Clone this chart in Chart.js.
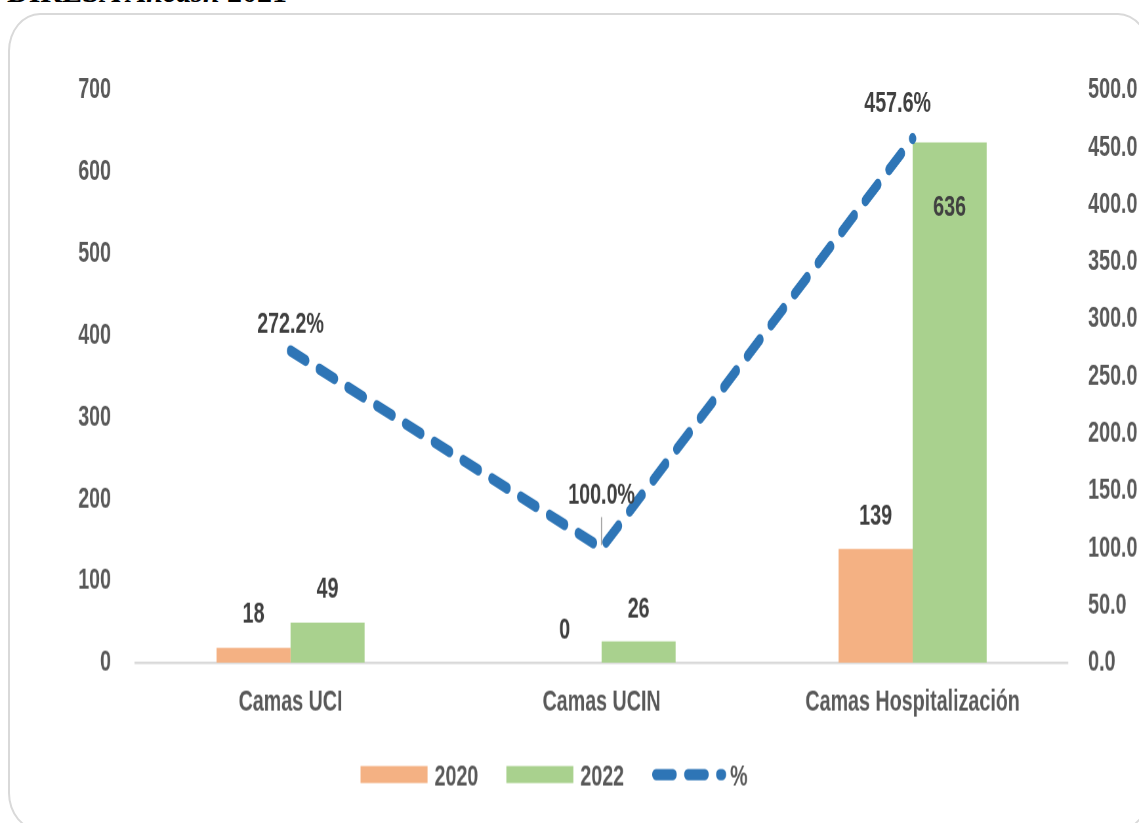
<!DOCTYPE html>
<html><head><meta charset="utf-8">
<script src="https://cdn.jsdelivr.net/npm/chart.js@4.4.1/dist/chart.umd.min.js"></script>
<style>
html,body{margin:0;padding:0;background:#fff;width:1139px;height:823px;overflow:hidden;}
#title{position:absolute;left:7px;top:-23px;font-family:"Liberation Serif","Times New Roman",serif;font-weight:bold;font-size:30px;line-height:30px;color:#000;white-space:nowrap;}
#frame{position:absolute;left:8px;top:13px;width:1142px;height:818px;border:2px solid #d9d9d9;border-radius:32px/38px;box-sizing:border-box;}
#wrap{position:absolute;left:0;top:0;width:1389.02px;height:658.4px;transform-origin:0 0;transform:scale(0.82,1.25);}
</style></head><body>
<div id="title">DIRESA <i>Ancash</i> 2021</div>
<div id="frame"></div>
<div id="wrap"><canvas id="c"></canvas></div>
<script>
// ---- data ----
const categories = ['Camas UCI', 'Camas UCIN', 'Camas Hospitalización'];
const seriesNames = ['2020', '2022', '%'];
const values2020 = [18, 0, 139];
const values2022 = [49, 26, 636];
const pctValues = [272.2, 100.0, 457.6];
const leftTicks = [0, 100, 200, 300, 400, 500, 600, 700];
const rightTicks = [0, 50, 100, 150, 200, 250, 300, 350, 400, 450, 500];

// ---- styles ----
const SX = 0.82, SY = 1.25; // narrow + tall look of the reference
const X = v => v / SX;      // screen px -> canvas units (horizontal)
const Y = v => v / SY;      // screen px -> canvas units (vertical)
const FONT = '"Liberation Sans",Arial,"DejaVu Sans",sans-serif';
const FS = 24;
Chart.defaults.font.family = FONT;
Chart.defaults.font.weight = 'bold';
Chart.defaults.font.size = FS;
Chart.defaults.color = '#595959';

const ORANGE = '#F4B183', GREEN = '#A9D18E', BLUE = '#2E75B6';
const DASH = [20, 18];

// label offsets relative to bar top / line point (screen px)
const labelOffsets = [
  {dx: [0, 0, 0], dy: [-36, -35, -35]},
  {dx: [0, 0, 0], dy: [-36, -35, 63]},
  {dx: [0, 0, -15], dy: [-29, -55, -37]}
];

const labelsPlugin = {
  id: 'valueLabels',
  afterDatasetsDraw(chart) {
    const ctx = chart.ctx;
    ctx.save();
    ctx.font = 'bold ' + FS + 'px ' + FONT;
    ctx.fillStyle = '#404040';
    ctx.textAlign = 'center';
    ctx.textBaseline = 'alphabetic';
    chart.data.datasets.forEach((ds, di) => {
      const meta = chart.getDatasetMeta(di);
      meta.data.forEach((el, i) => {
        const v = ds.data[i];
        const txt = ds.type === 'line' ? v.toFixed(1) + '%' : String(v);
        const off = labelOffsets[di];
        const cx = el.x + X(off.dx[i]);
        const cy = el.y + Y(off.dy[i]);
        ctx.fillText(txt, cx, cy + 0.36 * FS);
        if (ds.type === 'line' && i === 1) {
          ctx.save();
          ctx.strokeStyle = '#a6a6a6';
          ctx.lineWidth = 1.6;
          ctx.beginPath();
          ctx.moveTo(el.x, el.y - Y(31));
          ctx.lineTo(el.x, el.y - Y(3));
          ctx.stroke();
          ctx.restore();
        }
      });
    });
    ctx.restore();
  }
};

const legendPlugin = {
  id: 'customLegend',
  afterDraw(chart) {
    const ctx = chart.ctx;
    ctx.save();
    ctx.font = 'bold ' + FS + 'px ' + FONT;
    const items = chart.data.datasets.map(ds => ({
      type: ds.type,
      color: ds.type === 'line' ? ds.borderColor : ds.backgroundColor,
      text: ds.label,
      symW: X(ds.type === 'line' ? 74 : 67),
      gap: X(ds.type === 'line' ? 4 : 7)
    }));
    const spacing = X(28);
    let total = 0;
    items.forEach((it, k) => {
      it.tw = ctx.measureText(it.text).width;
      total += it.symW + it.gap + it.tw + (k < items.length - 1 ? spacing : 0);
    });
    let x = X(554) - total / 2;
    const cy = Y(775);
    items.forEach(it => {
      if (it.type === 'line') {
        ctx.save();
        ctx.strokeStyle = it.color;
        ctx.lineWidth = 9;
        ctx.lineCap = 'round';
        ctx.setLineDash([21, 18]);
        ctx.beginPath();
        ctx.moveTo(x + 4.5, cy);
        ctx.lineTo(x + it.symW - 4.5, cy);
        ctx.stroke();
        ctx.restore();
      } else {
        ctx.fillStyle = it.color;
        ctx.fillRect(x, cy - Y(8.5), it.symW, Y(17));
      }
      x += it.symW + it.gap;
      ctx.fillStyle = '#595959';
      ctx.textAlign = 'left';
      ctx.textBaseline = 'alphabetic';
      ctx.fillText(it.text, x, cy + 0.36 * FS);
      x += it.tw + spacing;
    });
    ctx.restore();
  }
};

new Chart(document.getElementById('c'), {
  data: {
    labels: categories,
    datasets: [
      {type: 'bar', label: seriesNames[0], data: values2020, backgroundColor: ORANGE, yAxisID: 'y', order: 1,
        categoryPercentage: 0.476, barPercentage: 1},
      {type: 'bar', label: seriesNames[1], data: values2022, backgroundColor: GREEN, yAxisID: 'y', order: 1,
        categoryPercentage: 0.476, barPercentage: 1},
      {type: 'line', label: seriesNames[2], data: pctValues, borderColor: BLUE, backgroundColor: BLUE,
        borderWidth: 9, borderDash: DASH, borderCapStyle: 'round', borderJoinStyle: 'round',
        pointRadius: 0, pointHoverRadius: 0, tension: 0, fill: false, yAxisID: 'y1', order: 0}
    ]
  },
  options: {
    responsive: true,
    maintainAspectRatio: false,
    animation: false,
    devicePixelRatio: 1.25,
    events: [],
    layout: {padding: {top: Y(90), left: 0, right: 0, bottom: 0}},
    plugins: {legend: {display: false}, tooltip: {enabled: false}},
    scales: {
      x: {
        grid: {display: false, drawTicks: false},
        border: {display: true, color: '#d9d9d9', width: 2},
        ticks: {padding: 17, color: '#595959', maxRotation: 0, autoSkip: false},
        afterFit(a) { a.height = Y(823 - 663); }
      },
      y: {
        position: 'left', min: 0, max: 700,
        grid: {display: false, drawTicks: false},
        border: {display: false},
        ticks: {padding: X(24), color: '#595959'},
        afterBuildTicks(a) { a.ticks = leftTicks.map(v => ({value: v})); },
        afterFit(a) { a.width = X(135); }
      },
      y1: {
        position: 'right', min: 0, max: 500,
        grid: {display: false, drawTicks: false},
        border: {display: false},
        ticks: {padding: X(20), color: '#595959', callback: v => Number(v).toFixed(1)},
        afterBuildTicks(a) { a.ticks = rightTicks.map(v => ({value: v})); },
        afterFit(a) { a.width = X(1139 - 1068); }
      }
    }
  },
  plugins: [labelsPlugin, legendPlugin]
});
</script>
</body></html>
